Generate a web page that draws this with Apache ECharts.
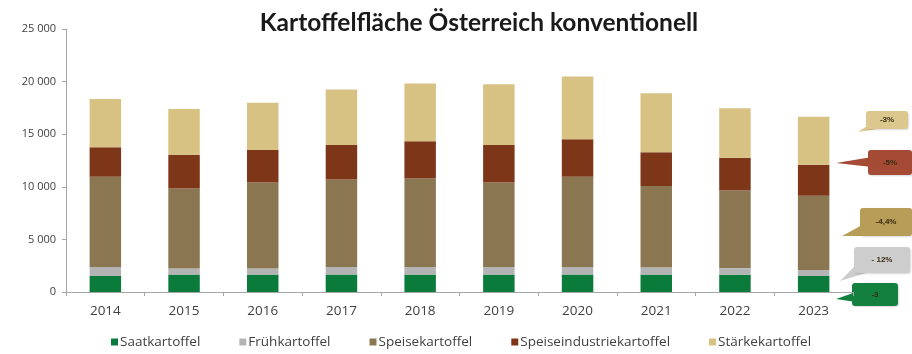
<!DOCTYPE html>
<html>
<head>
<meta charset="utf-8">
<script src="https://cdn.jsdelivr.net/npm/echarts@6/dist/echarts.min.js"></script>
<style>
  html, body { margin: 0; padding: 0; background: #fff; }
  #chart { width: 912px; height: 354px; }
</style>
</head>
<body>
<div id="chart"></div>
<script>
// Conventional potato acreage in Austria (ha), by use
const years = ['2014', '2015', '2016', '2017', '2018', '2019', '2020', '2021', '2022', '2023'];
const saatkartoffel = [1520, 1660, 1660, 1660, 1660, 1660, 1660, 1660, 1650, 1530];
const fruehkartoffel = [860, 570, 570, 720, 720, 720, 720, 660, 620, 560];
const speisekartoffel = [8570, 7620, 8190, 8320, 8420, 8040, 8570, 7750, 7380, 7060];
const speiseindustrie = [2800, 3170, 3080, 3270, 3520, 3550, 3560, 3210, 3100, 2950];
const staerkekartoffel = [4600, 4380, 4500, 5270, 5490, 5780, 5970, 5620, 4710, 4570];
const yTicks = [0, 5000, 10000, 15000, 20000, 25000];

// Change 2022 -> 2023 callouts, top to bottom
const changeLabels = ['-3%', '-5%', '-4,4%', '- 12%', '-3'];

const seriesDefs = [
  { name: 'Saatkartoffel', data: saatkartoffel, color: '#0b7b3c' },
  { name: 'Frühkartoffel', data: fruehkartoffel, color: '#b4b4b4' },
  { name: 'Speisekartoffel', data: speisekartoffel, color: '#8a7752' },
  { name: 'Speiseindustriekartoffel', data: speiseindustrie, color: '#7e3619' },
  { name: 'Stärkekartoffel', data: staerkekartoffel, color: '#d8c283' }
];

const fmt = v => {
  const s = String(v);
  return s.length > 3 ? s.slice(0, s.length - 3) + ' ' + s.slice(-3) : s;
};

const chart = echarts.init(document.getElementById('chart'), null, { renderer: 'canvas' });

function callout(label, rect, pointer, fill) {
  return {
    type: 'group',
    children: [
      { type: 'polygon', shape: { points: pointer }, style: { fill: fill } },
      {
        type: 'rect',
        shape: { x: rect[0], y: rect[1], width: rect[2], height: rect[3], r: 3 },
        style: { fill: fill, shadowBlur: 2, shadowColor: 'rgba(0,0,0,0.15)', shadowOffsetX: 1, shadowOffsetY: 1 }
      },
      {
        type: 'text',
        x: rect[0] + rect[2] / 2, y: rect[1] + rect[3] / 2,
        style: {
          text: label, fill: '#3a2a10', font: 'bold 8px "Liberation Sans", sans-serif',
          align: 'center', verticalAlign: 'middle'
        }
      }
    ]
  };
}

const option = {
  animation: false,
  backgroundColor: '#ffffff',
  title: {
    text: 'Kartoffelfläche Österreich konventionell',
    left: 474,
    textAlign: 'center',
    top: 6,
    textStyle: { fontFamily: 'Lato', fontWeight: 'bold', fontSize: 24.5, color: '#1a1a1a' }
  },
  grid: { left: 66, right: 59, top: 29, bottom: 62 },
  legend: {
    bottom: 0,
    left: 106,
    itemWidth: 7,
    itemHeight: 7,
    itemGap: 39,
    icon: 'rect',
    textStyle: { fontFamily: '"Open Sans", sans-serif', fontSize: 13.5, color: '#404040', padding: [0, 0, 0, -3] },
    data: seriesDefs.map(s => s.name)
  },
  xAxis: {
    type: 'category',
    data: years,
    axisLine: { lineStyle: { color: '#a6a6a6' } },
    axisTick: { show: true, alignWithLabel: false, length: 4, lineStyle: { color: '#a6a6a6' } },
    axisLabel: { fontFamily: '"Open Sans", sans-serif', fontSize: 13.5, color: '#404040', margin: 12 }
  },
  yAxis: {
    type: 'value',
    min: yTicks[0],
    max: yTicks[yTicks.length - 1],
    interval: yTicks[1] - yTicks[0],
    axisLine: { show: true, lineStyle: { color: '#a6a6a6' } },
    axisTick: { show: true, inside: false, length: 4, lineStyle: { color: '#a6a6a6' } },
    splitLine: { show: false },
    axisLabel: {
      fontFamily: '"Open Sans", sans-serif', fontSize: 11, color: '#404040', margin: 10,
      formatter: fmt
    }
  },
  series: seriesDefs.map(s => ({
    name: s.name,
    type: 'bar',
    stack: 'total',
    barWidth: '40%',
    data: s.data,
    itemStyle: { color: s.color }
  })),
  graphic: [
    callout(changeLabels[0], [866, 111, 42, 18], [[870, 124], [878, 129], [858, 132]], '#dcc88e'),
    callout(changeLabels[1], [868, 150, 44, 25], [[872, 157], [872, 167], [836, 163]], '#a54a34'),
    callout(changeLabels[2], [860, 208, 52, 28], [[864, 224], [872, 236], [842, 236]], '#b89d58'),
    callout(changeLabels[3], [854, 247, 56, 26], [[858, 263], [866, 273], [840, 281]], '#cdcdcd'),
    callout(changeLabels[4], [852, 283, 46, 23], [[856, 292], [856, 302], [836, 299]], '#13803f')
  ]
};

chart.setOption(option);
</script>
</body>
</html>
